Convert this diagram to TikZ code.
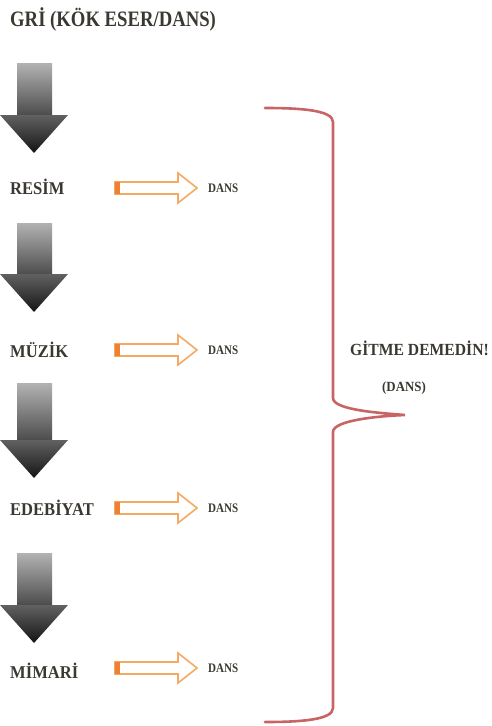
\documentclass[tikz,border=0pt]{standalone}
\usepackage{fontspec}
\setmainfont{Liberation Serif}
\newfontfamily\condA[FakeStretch=0.85]{Liberation Serif}
\newfontfamily\condB[FakeStretch=0.92]{Liberation Serif}
\definecolor{txt}{RGB}{58,56,48}
\definecolor{orl}{RGB}{245,170,100}
\definecolor{ord}{RGB}{238,130,50}
\definecolor{brc}{RGB}{200,100,100}
\begin{document}
\begin{tikzpicture}[x=1pt,y=-1pt,
  lbl/.style={anchor=west,inner sep=0pt,text=txt,font=\condB\bfseries\fontsize{18}{18}\selectfont},
  dans/.style={anchor=west,inner sep=0pt,text=txt,font=\condA\bfseries\fontsize{13}{13}\selectfont},
  ttl/.style={anchor=west,inner sep=0pt,text=txt,font=\condA\bfseries\fontsize{22}{22}\selectfont},
  downarr/.pic={
    \shade[top color=black!30,bottom color=black!70] (17,0) -- (52,0) -- (52,#1) -- (17,#1) -- cycle;
    \shade[top color=black!62,bottom color=black!92] (0,#1) -- (68,#1) -- (34,#1+38) -- cycle;
  },
  rightarr/.pic={
    \draw[orl,line width=1.6pt,fill=white,line join=miter]
      (0,-6) -- (63,-6) -- (63,-15) -- (82,0) -- (63,15) -- (63,6) -- (0,6) -- cycle;
    \fill[ord] (0,-6) rectangle (5,6);
  },
  brace/.style={draw=brc,line width=2.6pt,line cap=round}
]
\useasboundingbox (0,0) rectangle (492,726);

\node[ttl] (title) at (10,19) {GRİ (KÖK ESER/DANS)};

\pic at (0,63) {downarr=52};
\pic at (0,223) {downarr=51};
\pic at (0,383) {downarr=57};
\pic at (0,553) {downarr=52};

\node[lbl] (resim) at (10,187) {RESİM};
\node[lbl] (muzik) at (10,350) {MÜZİK};
\node[lbl] (edeb) at (10,508) {EDEBİYAT};
\node[lbl] (mimari) at (10,671) {MİMARİ};

\pic at (115,188) {rightarr};
\pic at (115,350) {rightarr};
\pic at (115,508) {rightarr};
\pic at (115,668) {rightarr};

\node[dans] (d1) at (208,188) {DANS};
\node[dans] (d2) at (208,350) {DANS};
\node[dans] (d3) at (208,508) {DANS};
\node[dans] (d4) at (208,668) {DANS};

\coordinate (bt) at (265,108);
\coordinate (bm) at (405,415);
\coordinate (bb) at (265,722);
\draw[brace] (bt) .. controls (300,108) and (333,110) .. (333,122)
  -- (333,398) .. controls (333,410) and (380,413) .. (bm)
  .. controls (380,416) and (333,420) .. (333,432)
  -- (333,708) .. controls (333,720) and (300,722) .. (bb);

\node[anchor=west,inner sep=0pt,text=txt,font=\condB\bfseries\fontsize{17}{17}\selectfont] (gitme) at (350,348) {GİTME DEMEDİN!};
\node[anchor=west,inner sep=0pt,text=txt,font=\condB\bfseries\fontsize{14}{14}\selectfont] (dp) at (382,388) {(DANS)};
\end{tikzpicture}
\end{document}
